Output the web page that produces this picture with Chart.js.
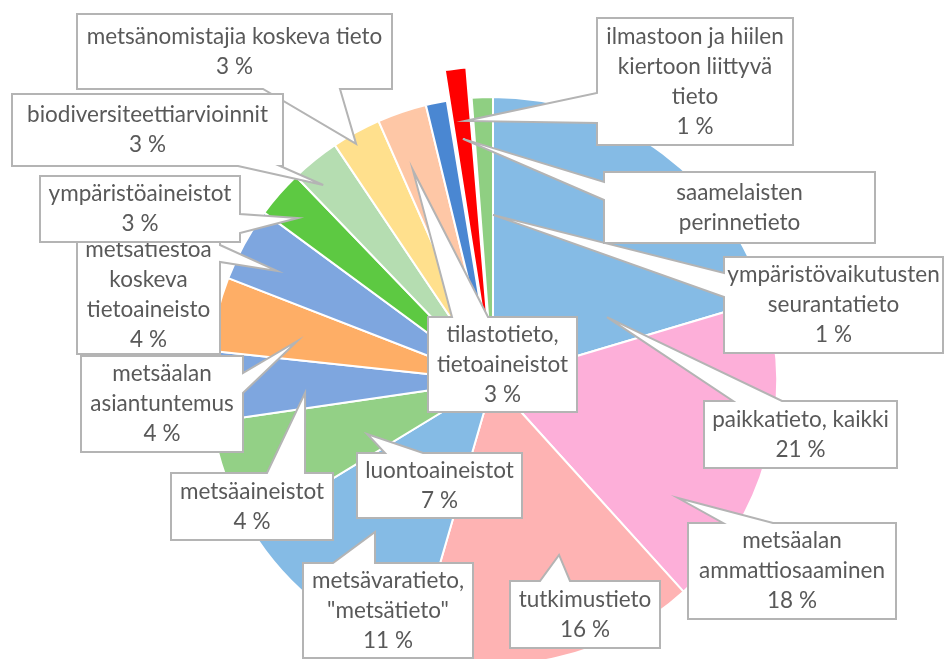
<!DOCTYPE html>
<html>
<head>
<meta charset="utf-8">
<script src="https://cdn.jsdelivr.net/npm/chart.js@4.4.1/dist/chart.umd.min.js"></script>
<style>
  html, body { margin: 0; padding: 0; background: #fff; }
  canvas { display: block; }
</style>
</head>
<body>
<canvas id="myChart" width="945" height="659"></canvas>
<script>
// Sektorit myötäpäivään klo 12:sta alkaen
const categories = [
  "paikkatieto, kaikki",
  "metsäalan\nammattiosaaminen",
  "tutkimustieto",
  "metsävaratieto,\n\"metsätieto\"",
  "luontoaineistot",
  "metsäaineistot",
  "metsäalan\nasiantuntemus",
  "metsätiestöä\nkoskeva\ntietoaineisto",
  "ympäristöaineistot",
  "biodiversiteettiarvioinnit",
  "metsänomistajia koskeva tieto",
  "tilastotieto,\ntietoaineistot",
  "ympäristövaikutusten\nseurantatieto",
  "saamelaisten\nperinnetieto",
  "ilmastoon ja hiilen\nkiertoon liittyvä\ntieto"
];
const shares = [20.4, 17.9, 16.2, 11.8, 6.4, 4.0, 4.2, 4.2, 2.7, 2.8, 2.8, 2.8, 1.2, 1.4, 1.2];
const percentLabels = ["21 %", "18 %", "16 %", "11 %", "7 %", "4 %", "4 %", "4 %", "3 %", "3 %", "3 %", "3 %", "1 %", "", "1 %"];

const sliceColors = [
  "#85BBE5", "#FDAFD9", "#FEB3B3", "#85BBE5", "#93D086",
  "#7EA6DF", "#FEAE66", "#7EA6DF", "#5DC942", "#B5DDB1",
  "#FFE08D", "#FEC7A6", "#4A87D2", "#FF0000", "#8FCF82"
];
const explodedIndex = 13; // irrotettu punainen sektori

// Selitelaatikot: box = [x0, y0, x1, y1], base = kärjen juuri laatikon reunalla,
// tip = [kulma astetta klo 12:sta, säde suhteessa piirakan säteeseen]
const callouts = [
  { i: 10, box: [77, 14, 392, 89], side: "bottom", base: [263, 340], tip: [330.0, 0.964] },
  { i: 9, box: [12, 94, 283, 166], side: "bottom", base: [238, 280], tip: [319.1, 0.913] },
  { i: 7, box: [77, 236, 220, 354], side: "right", base: [245, 262], tip: [297.0, 0.854] },
  { i: 8, box: [40, 176, 240, 242], side: "right", base: [214, 233], tip: [309.9, 0.895] },
  { i: 6, box: [81, 356, 243, 452], side: "right", base: [373, 393], tip: [281.5, 0.704] },
  { i: 5, box: [171, 473, 333, 540], side: "top", base: [267, 305], tip: [266.4, 0.663] },
  { i: 4, box: [357, 453, 522, 518], side: "top", base: [385, 423], tip: [247.2, 0.481] },
  { i: 3, box: [303, 563, 473, 658], side: "top", base: [333, 375], tip: [218.0, 0.675] },
  { i: 2, box: [510, 581, 660, 648], side: "top", base: [540, 570], tip: [159.2, 0.655] },
  { i: 1, box: [688, 523, 896, 619], side: "top", base: [723, 773], tip: [122.3, 0.771] },
  { i: 0, box: [704, 401, 897, 468], side: "top", base: [733, 782], tip: [60.7, 0.46] },
  { i: 12, box: [724, 257, 943, 353], side: "left", base: [273, 297], tip: [0.0, 0.585] },
  { i: 13, box: [604, 172, 875, 243], side: "left", base: [182, 200], tip: [352.9, 0.859] },
  { i: 14, box: [597, 18, 793, 145], side: "left", base: [93, 123], tip: [353.9, 0.921] },
  { i: 11, box: [428, 317, 577, 412], side: "top", base: [452, 488], tip: [339.2, 0.795] }
];

// Piirtää selitelaatikot kärkineen
const calloutPlugin = {
  id: "callouts",
  afterDraw(chart) {
    const ctx = chart.ctx;
    const arc = chart.getDatasetMeta(0).data[0];
    const cx = arc.x, cy = arc.y, R = arc.outerRadius;

    callouts.forEach((c) => {
      const [x0, y0, x1, y1] = c.box;
      const a = c.tip[0] * Math.PI / 180;
      const tx = cx + Math.sin(a) * R * c.tip[1];
      const ty = cy - Math.cos(a) * R * c.tip[1];
      const [b1, b2] = c.base;

      ctx.save();
      ctx.beginPath();
      ctx.moveTo(x0, y0);
      if (c.side === "top") { ctx.lineTo(b1, y0); ctx.lineTo(tx, ty); ctx.lineTo(b2, y0); }
      ctx.lineTo(x1, y0);
      if (c.side === "right") { ctx.lineTo(x1, b1); ctx.lineTo(tx, ty); ctx.lineTo(x1, b2); }
      ctx.lineTo(x1, y1);
      if (c.side === "bottom") { ctx.lineTo(b2, y1); ctx.lineTo(tx, ty); ctx.lineTo(b1, y1); }
      ctx.lineTo(x0, y1);
      if (c.side === "left") { ctx.lineTo(x0, b2); ctx.lineTo(tx, ty); ctx.lineTo(x0, b1); }
      ctx.closePath();
      ctx.fillStyle = "#ffffff";
      ctx.fill();
      ctx.lineWidth = 2;
      ctx.strokeStyle = "#B4B4B4";
      ctx.lineJoin = "miter";
      ctx.stroke();

      // teksti
      const lines = categories[c.i].split("\n");
      if (percentLabels[c.i]) lines.push(percentLabels[c.i]);
      const lh = 30;
      const midY = (y0 + y1) / 2;
      ctx.fillStyle = "#595959";
      ctx.font = "22.5px Lato";
      ctx.textAlign = "center";
      ctx.textBaseline = "middle";
      lines.forEach((t, k) => {
        ctx.fillText(t, (x0 + x1) / 2, midY + (k - (lines.length - 1) / 2) * lh);
      });
      ctx.restore();
    });
  }
};

function setupChart() {
  const ctx = document.getElementById("myChart").getContext("2d");
  new Chart(ctx, {
    type: "pie",
    data: {
      labels: categories,
      datasets: [{
        data: shares,
        backgroundColor: sliceColors,
        borderColor: "#ffffff",
        borderWidth: 2,
        offset: (c) => (c.dataIndex === explodedIndex ? 64 : 0),
      }],
    },
    options: {
      responsive: false,
      animation: false,
      radius: 284,
      layout: { padding: { left: 41, top: 103, right: 0, bottom: 0 } },
      plugins: {
        legend: { display: false },
        tooltip: { enabled: false },
      },
    },
    plugins: [calloutPlugin],
  });
}

document.addEventListener("DOMContentLoaded", setupChart);
</script>
</body>
</html>
